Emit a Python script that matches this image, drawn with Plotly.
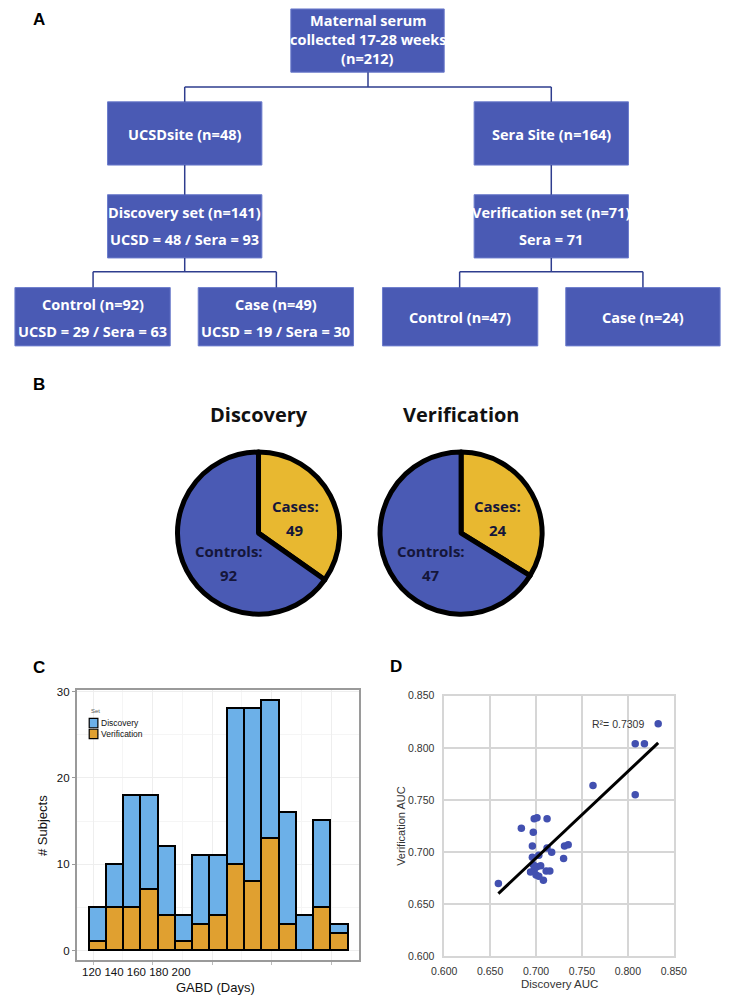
"""
Study design figure: flowchart (A), cohort pies (B),
GABD histogram (C) and discovery vs verification AUC (D)
"""

import plotly.graph_objects as go

W, H = 736, 1003

# ------------------------------------------------------------------
# data
# ------------------------------------------------------------------
box_labels = [
    ["Maternal serum", "collected 17-28 weeks", "(n=212)"],
    ["UCSDsite (n=48)"],
    ["Sera Site (n=164)"],
    ["Discovery set (n=141)", "UCSD = 48 / Sera = 93"],
    ["Verification set (n=71)", "Sera = 71"],
    ["Control (n=92)", "UCSD = 29 / Sera = 63"],
    ["Case (n=49)", "UCSD = 19 / Sera = 30"],
    ["Control (n=47)"],
    ["Case (n=24)"],
]

pie_titles = ["Discovery", "Verification"]
pie_labels = ["Cases", "Controls"]
discovery_split = [49, 92]
verification_split = [24, 47]

bin_centers = [121.6, 127.4, 133.2, 139.0, 144.8, 150.6, 156.4, 162.2,
               168.0, 173.8, 179.6, 185.4, 191.2, 197.0, 202.8]
discovery_counts = [4, 5, 13, 11, 8, 3, 8, 7, 18, 20, 16, 13, 4, 10, 1]
verification_counts = [1, 5, 5, 7, 4, 1, 3, 4, 10, 8, 13, 3, 0, 5, 2]
gabd_ticks = [120, 140, 160, 180, 200]
legend_sets = ["Discovery", "Verification"]

discovery_auc = [0.833, 0.808, 0.818, 0.808, 0.762, 0.659,
                 0.684, 0.698, 0.701, 0.712, 0.697, 0.696, 0.712, 0.717,
                 0.731, 0.735, 0.730, 0.696, 0.703, 0.701, 0.705, 0.698,
                 0.694, 0.711, 0.715, 0.700, 0.703, 0.708, 0.697]
verification_auc = [0.823, 0.804, 0.804, 0.755, 0.764, 0.670,
                    0.723, 0.732, 0.733, 0.732, 0.719, 0.706, 0.704, 0.700,
                    0.706, 0.707, 0.694, 0.695, 0.697, 0.686, 0.687, 0.683,
                    0.681, 0.682, 0.682, 0.678, 0.677, 0.673, 0.688]
fit_slope = 0.83
fit_intercept = 0.1133
r_squared = 0.7309
auc_ticks = [0.600, 0.650, 0.700, 0.750, 0.800, 0.850]

# ------------------------------------------------------------------
# helpers (pixel -> paper)
# ------------------------------------------------------------------
def px(x):
    return x / W


def py(y):
    return 1 - y / H


BOX_BLUE = '#4A5AB4'
LINE_BLUE = '#2E3D8E'
FLOW_FONT = 'Liberation Sans Narrow, Open Sans, sans-serif'
ARIAL = 'Liberation Sans, Arial, sans-serif'
SET_COLORS = {'Discovery': '#6CB0E8', 'Verification': '#E0A030'}

shapes = []
annotations = []

# box rectangles (left, top, right, bottom)
box_rects = [
    (288, 3, 447, 67), (98, 97, 258, 161), (478, 97, 638, 161),
    (98, 191, 258, 255), (478, 191, 638, 255),
    (2, 285, 163, 344), (192, 285, 353, 344),
    (383, 285, 544, 344), (573, 285, 733, 344),
]

for i, (rect, lines) in enumerate(zip(box_rects, box_labels)):
    x0, y0, x1, y1 = rect
    shapes.append(dict(type='rect', xref='paper', yref='paper',
                       x0=px(x0), x1=px(x1), y0=py(y1), y1=py(y0),
                       fillcolor=BOX_BLUE, line=dict(color='#6C7CCC', width=1),
                       layer='below'))
    if len(lines) == 3:
        rows = [15, 34, 53]
    elif len(lines) == 2:
        rows = [209, 236] if i in (3, 4) else [302, 329]
    else:
        rows = [(y0 + y1) / 2 + 1]
    for text, row in zip(lines, rows):
        annotations.append(dict(text=text, x=px((x0 + x1) / 2), y=py(row),
                                xref='paper', yref='paper', showarrow=False,
                                xanchor='center', yanchor='middle',
                                font=dict(family=FLOW_FONT, size=14.5,
                                          color='white', weight='bold')))

connectors = [
    (368, 67, 368, 82), (178, 82, 558, 82), (178, 82, 178, 97), (558, 82, 558, 97),
    (178, 161, 178, 191), (558, 161, 558, 191),
    (178, 255, 178, 269), (83, 269, 273, 269), (83, 269, 83, 285), (273, 269, 273, 285),
    (558, 255, 558, 269), (463, 269, 653, 269), (463, 269, 463, 285), (653, 269, 653, 285),
]
for x0, y0, x1, y1 in connectors:
    shapes.append(dict(type='line', xref='paper', yref='paper',
                       x0=px(x0), x1=px(x1), y0=py(y0), y1=py(y1),
                       line=dict(color=LINE_BLUE, width=1.5)))

# panel letters
for letter, (lx, ly) in {'A': (27, 14), 'B': (27, 383), 'C': (27, 670), 'D': (397, 669)}.items():
    annotations.append(dict(text=letter, x=px(lx), y=py(ly), xref='paper', yref='paper',
                            showarrow=False, xanchor='center', yanchor='middle',
                            font=dict(family=ARIAL, size=17, color='black',
                                      weight='bold')))

fig = go.Figure()

# ------------------------------------------------------------------
# B: pies
# ------------------------------------------------------------------
PIE_FONT = 'Open Sans, sans-serif'
pie_centers = [254.5, 464.5]
pie_cy = 533.5
pie_r = 84
for title, split, cx in zip(pie_titles, [discovery_split, verification_split], pie_centers):
    fig.add_trace(go.Pie(
        values=split, labels=pie_labels, sort=False, direction='clockwise',
        rotation=0, textinfo='none', showlegend=False,
        marker=dict(colors=['#E8B830', '#4A5AB4'], line=dict(color='black', width=5)),
        domain=dict(x=[px(cx - pie_r), px(cx + pie_r)],
                    y=[py(pie_cy + pie_r), py(pie_cy - pie_r)]),
        hovertemplate='%{label}: %{value}<extra></extra>'
    ))
    annotations.append(dict(text=title, x=px(cx), y=py(413), xref='paper', yref='paper',
                            showarrow=False, xanchor='center', yanchor='middle',
                            font=dict(family=PIE_FONT, size=20, color='#111',
                                      weight='bold')))
    pie_text = [('Cases:', cx + 38, 506), (str(split[0]), cx + 38, 530),
                ('Controls:', cx - 31, 552), (str(split[1]), cx - 31, 576)]
    for t, tx, ty in pie_text:
        annotations.append(dict(text=t, x=px(tx), y=py(ty), xref='paper', yref='paper',
                                showarrow=False, xanchor='center', yanchor='middle',
                                font=dict(family=PIE_FONT, size=15, color='#15163A',
                                          weight='bold')))

# ------------------------------------------------------------------
# C: stacked histogram
# ------------------------------------------------------------------
fig.add_trace(go.Bar(
    x=bin_centers, y=verification_counts, width=5.8, name='Verification',
    marker=dict(color=SET_COLORS['Verification'], line=dict(color='black', width=1.5)),
    xaxis='x', yaxis='y', showlegend=False,
    hovertemplate='Verification: %{y}<extra></extra>'
))
fig.add_trace(go.Bar(
    x=bin_centers, y=discovery_counts, width=5.8, name='Discovery',
    marker=dict(color=SET_COLORS['Discovery'], line=dict(color='black', width=1.5)),
    xaxis='x', yaxis='y', showlegend=False,
    hovertemplate='Discovery: %{y}<extra></extra>'
))

# compact legend drawn by hand (plotly's legend rows are too tall)
annotations.append(dict(text='Set', x=px(79), y=py(714), xref='paper', yref='paper',
                        showarrow=False, xanchor='left', yanchor='middle',
                        font=dict(family=ARIAL, size=6, color='#555')))
for k, name in enumerate(legend_sets):
    top = 721 + 11 * k
    shapes.append(dict(type='rect', xref='paper', yref='paper',
                       x0=px(79), x1=px(88), y0=py(top + 9.5), y1=py(top),
                       fillcolor=SET_COLORS[name], line=dict(color='black', width=1.2)))
    annotations.append(dict(text=name, x=px(89.5), y=py(top + 4.5), xref='paper',
                            yref='paper', showarrow=False, xanchor='left',
                            yanchor='middle',
                            font=dict(family=ARIAL, size=8.5, color='#111')))

annotations += [
    dict(text=' '.join(str(t) for t in gabd_ticks), x=px(128), y=py(978),
         xref='paper', yref='paper', showarrow=False, xanchor='center', yanchor='middle',
         font=dict(family=ARIAL, size=11.5, color='#111')),
    dict(text='GABD (Days)', x=px(210), y=py(993), xref='paper', yref='paper',
         showarrow=False, xanchor='center', yanchor='middle',
         font=dict(family=ARIAL, size=13, color='#111')),
    dict(text='# Subjects', x=px(30), y=py(829), xref='paper', yref='paper',
         showarrow=False, textangle=-90, xanchor='center', yanchor='middle',
         font=dict(family=ARIAL, size=13, color='#111')),
]

# ------------------------------------------------------------------
# D: AUC scatter
# ------------------------------------------------------------------
fig.add_trace(go.Scatter(
    x=discovery_auc, y=verification_auc, mode='markers', showlegend=False,
    marker=dict(color='#4250B0', size=7.5),
    xaxis='x2', yaxis='y2',
    hovertemplate='Discovery: %{x:.3f}<br>Verification: %{y:.3f}<extra></extra>'
))
x_fit = [min(discovery_auc), max(discovery_auc)]
fig.add_trace(go.Scatter(
    x=x_fit, y=[fit_slope * v + fit_intercept for v in x_fit],
    mode='lines', showlegend=False, line=dict(color='black', width=3),
    xaxis='x2', yaxis='y2', hoverinfo='skip'
))

annotations += [
    dict(text=f'R²= {r_squared}', x=0.789, y=0.823, xref='x2', yref='y2',
         showarrow=False, xanchor='center', yanchor='middle',
         font=dict(family=ARIAL, size=10.5, color='#333')),
    dict(text='Discovery AUC', x=px(566), y=py(990), xref='paper', yref='paper',
         showarrow=False, xanchor='center', yanchor='middle',
         font=dict(family=ARIAL, size=11.5, color='#333')),
    dict(text='Verification AUC', x=px(402), y=py(830), xref='paper', yref='paper',
         showarrow=False, textangle=-90, xanchor='center', yanchor='middle',
         font=dict(family=ARIAL, size=11, color='#333')),
]

# ------------------------------------------------------------------
# layout
# ------------------------------------------------------------------
fig.update_layout(
    width=W, height=H,
    margin=dict(l=0, r=0, t=0, b=0),
    paper_bgcolor='white', plot_bgcolor='white',
    barmode='stack', bargap=0, showlegend=False,
    font=dict(family=ARIAL, color='#111'),
    shapes=shapes, annotations=annotations,
    xaxis=dict(
        domain=[px(66), px(359)], range=[114.5, 209.4], anchor='y',
        tickvals=gabd_ticks, showticklabels=False,
        ticks='outside', ticklen=3, tickcolor='#BBBBBB',
        showgrid=True, gridcolor='#EEEEEE', gridwidth=1,
        minor=dict(dtick=10, tick0=110, showgrid=True, gridcolor='#F5F5F5'),
        showline=True, linecolor='#9A9A9A', linewidth=1.5, mirror=True,
        zeroline=False, fixedrange=True
    ),
    yaxis=dict(
        domain=[py(966), py(692)], range=[-1.15, 30.23], anchor='x',
        tickvals=[0, 10, 20, 30], ticks='outside', ticklen=3, tickcolor='#9A9A9A',
        tickfont=dict(size=11.5, color='#111'),
        showgrid=True, gridcolor='#EEEEEE', gridwidth=1,
        minor=dict(dtick=5, showgrid=True, gridcolor='#F5F5F5'),
        showline=True, linecolor='#9A9A9A', linewidth=1.5, mirror=True,
        zeroline=False, fixedrange=True
    ),
    xaxis2=dict(
        domain=[px(447), px(685)], range=[0.6, 0.85], anchor='y2',
        tickvals=auc_ticks, tickformat='.3f',
        tickfont=dict(size=10.5, color='#333'), ticklabelstandoff=4,
        showgrid=True, gridcolor='#D6D6D6', gridwidth=1.5,
        showline=True, linecolor='#D6D6D6', linewidth=1.5, mirror=True,
        zeroline=False, fixedrange=True
    ),
    yaxis2=dict(
        domain=[py(962), py(698)], range=[0.6, 0.85], anchor='x2',
        tickvals=auc_ticks, tickformat='.3f',
        tickfont=dict(size=10.5, color='#333'), ticklabelstandoff=6,
        showgrid=True, gridcolor='#D6D6D6', gridwidth=1.5,
        showline=True, linecolor='#D6D6D6', linewidth=1.5, mirror=True,
        zeroline=False, fixedrange=True
    ),
)

# drop the browser's default 8px body margin so the figure sits at (0, 0)
fig.write_html("out.html", config={'displayModeBar': False},
               post_script="document.body.style.margin = '0';")
print("[OK] figure saved to out.html")
